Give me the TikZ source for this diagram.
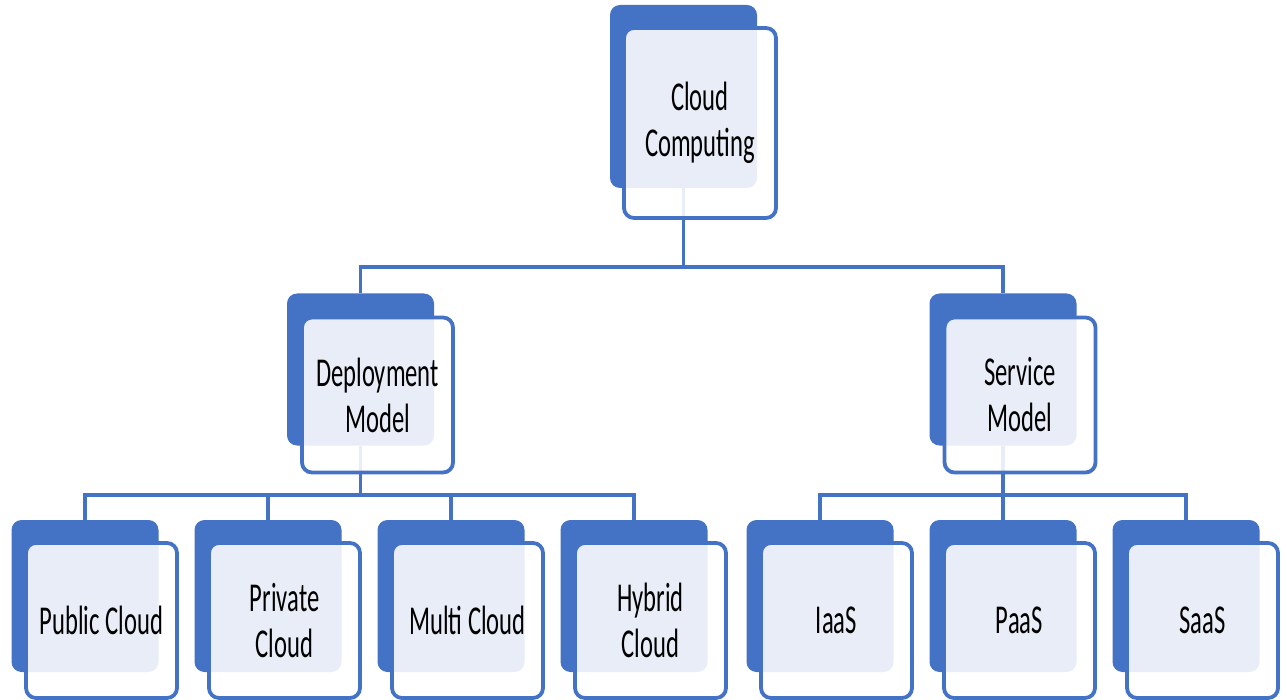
\documentclass[tikz,border=0pt]{standalone}
\usepackage{fontspec}
\setmainfont[FakeStretch=0.6]{Carlito}
\definecolor{boxblue}{HTML}{4472C4}
\begin{document}
\begin{tikzpicture}[x=1pt, y=-1pt,
  backbox/.style={rectangle, rounded corners=10pt, fill=boxblue, minimum width=147pt, minimum height=152pt, inner sep=0pt},
  frontbox/.style={rectangle, rounded corners=10pt, draw=boxblue, line width=3.8pt, fill=white, fill opacity=0.88, text opacity=1, minimum width=151pt, minimum height=155pt, inner sep=0pt, align=center, font=\fontsize{41}{46}\selectfont},
  link/.style={draw=boxblue, line width=3.6pt}]
\useasboundingbox (0,0) rectangle (1287,700);
\node[backbox, minimum height=183pt] (bid0) at (683.5,96.5){};
\node[backbox] (bid1) at (360.5,369.5){};
\node[backbox] (bid2) at (1003,369.5){};
\node[backbox] (bid3) at (85,596){};
\node[backbox] (bid4) at (268,596){};
\node[backbox] (bid5) at (451,596){};
\node[backbox] (bid6) at (634,596){};
\node[backbox] (bid7) at (820,596){};
\node[backbox] (bid8) at (1003,596){};
\node[backbox] (bid9) at (1186,596){};
\coordinate (jid0) at (683.5,267);
\coordinate (jid1) at (360.5,495);
\coordinate (jid2) at (1003,495);
\draw[link] (bid0.south) -- (jid0) -| (bid1.north);
\draw[link] (jid0) -| (bid2.north);
\draw[link] (bid1.south) -- (jid1) -| (bid3.north);
\draw[link] (jid1) -| (bid4.north);
\draw[link] (jid1) -| (bid5.north);
\draw[link] (jid1) -| (bid6.north);
\draw[link] (bid2.south) -- (jid2) -| (bid7.north);
\draw[link] (jid2) -- (bid8.north);
\draw[link] (jid2) -| (bid9.north);
\node[frontbox, minimum width=152pt, minimum height=190pt] (fid0) at (700,123){Cloud\\Computing};
\node[frontbox] (fid1) at (377.5,395){Deployment\\Model};
\node[frontbox] (fid2) at (1020,395){Service\\Model};
\node[frontbox] (fid3) at (101.5,620.5){Public Cloud};
\node[frontbox] (fid4) at (284.5,620.5){Private\\Cloud};
\node[frontbox] (fid5) at (467.5,620.5){Multi Cloud};
\node[frontbox] (fid6) at (650.5,620.5){Hybrid\\Cloud};
\node[frontbox] (fid7) at (836.5,620.5){IaaS};
\node[frontbox] (fid8) at (1019.5,620.5){PaaS};
\node[frontbox] (fid9) at (1202.5,620.5){SaaS};
\end{tikzpicture}
\end{document}
